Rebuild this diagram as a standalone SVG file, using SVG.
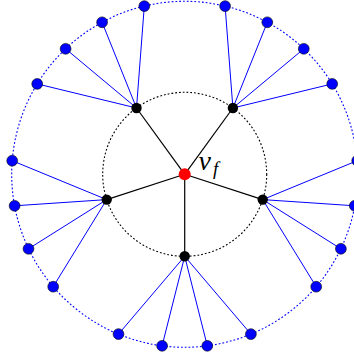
<svg xmlns="http://www.w3.org/2000/svg" width="354" height="360" viewBox="0 0 354 360">
<style>
.ring{fill:none;stroke-width:1.1;stroke-dasharray:1.8 2}
.e1{stroke:#000;stroke-width:1.2}
.e2{stroke:#0000ff;stroke-width:1}
.b{fill:#0000ff;stroke:#000;stroke-width:0.6}
.k{fill:#000}
.r{fill:#ff0000}
.lbl{font-family:"Liberation Serif",serif;font-style:italic;fill:#000}
</style>
<rect width="354" height="360" fill="#fff"/>
<circle class="ring" cx="184.7" cy="174.3" r="82" stroke="#000"/>
<circle class="ring" cx="184.7" cy="174.3" r="173" stroke="#0000ff"/>
<g id="connectors">
<line class="e1" x1="184.7" y1="174.3" x2="184.7" y2="256.3"/>
<line class="e1" x1="184.7" y1="174.3" x2="262.7" y2="199.6"/>
<line class="e1" x1="184.7" y1="174.3" x2="106.7" y2="199.6"/>
<line class="e1" x1="184.7" y1="174.3" x2="136.5" y2="108.0"/>
<line class="e1" x1="184.7" y1="174.3" x2="232.9" y2="108.0"/>
<line class="e2" x1="184.7" y1="256.3" x2="250.9" y2="334.1"/>
<line class="e2" x1="184.7" y1="256.3" x2="207.3" y2="345.8"/>
<line class="e2" x1="184.7" y1="256.3" x2="162.1" y2="345.8"/>
<line class="e2" x1="184.7" y1="256.3" x2="118.5" y2="334.1"/>
<line class="e2" x1="262.7" y1="199.6" x2="357.2" y2="160.7"/>
<line class="e2" x1="262.7" y1="199.6" x2="354.8" y2="205.8"/>
<line class="e2" x1="262.7" y1="199.6" x2="340.9" y2="248.8"/>
<line class="e2" x1="262.7" y1="199.6" x2="316.2" y2="286.7"/>
<line class="e2" x1="106.7" y1="199.6" x2="53.2" y2="286.7"/>
<line class="e2" x1="106.7" y1="199.6" x2="28.5" y2="248.8"/>
<line class="e2" x1="106.7" y1="199.6" x2="14.6" y2="205.8"/>
<line class="e2" x1="106.7" y1="199.6" x2="12.2" y2="160.7"/>
<line class="e2" x1="136.5" y1="108.0" x2="37.2" y2="83.9"/>
<line class="e2" x1="136.5" y1="108.0" x2="65.6" y2="48.8"/>
<line class="e2" x1="136.5" y1="108.0" x2="102.1" y2="22.3"/>
<line class="e2" x1="136.5" y1="108.0" x2="144.3" y2="6.1"/>
<line class="e2" x1="232.9" y1="108.0" x2="225.1" y2="6.1"/>
<line class="e2" x1="232.9" y1="108.0" x2="267.3" y2="22.3"/>
<line class="e2" x1="232.9" y1="108.0" x2="303.8" y2="48.8"/>
<line class="e2" x1="232.9" y1="108.0" x2="332.2" y2="83.9"/>
</g>
<g id="vf"><circle class="r" cx="184.7" cy="174.3" r="6"/>
<text class="lbl" x="198.5" y="169.5" font-size="28">v</text><text class="lbl" x="213" y="175" font-size="19">f</text></g>
<g id="k1"><circle class="k" cx="184.7" cy="256.3" r="5.2"/></g>
<g id="k2"><circle class="k" cx="262.7" cy="199.6" r="5.2"/></g>
<g id="k3"><circle class="k" cx="106.7" cy="199.6" r="5.2"/></g>
<g id="k4"><circle class="k" cx="136.5" cy="108.0" r="5.2"/></g>
<g id="k5"><circle class="k" cx="232.9" cy="108.0" r="5.2"/></g>
<g id="b1"><circle class="b" cx="250.9" cy="334.1" r="5.4"/></g>
<g id="b2"><circle class="b" cx="207.3" cy="345.8" r="5.4"/></g>
<g id="b3"><circle class="b" cx="162.1" cy="345.8" r="5.4"/></g>
<g id="b4"><circle class="b" cx="118.5" cy="334.1" r="5.4"/></g>
<g id="b5"><circle class="b" cx="357.2" cy="160.7" r="5.4"/></g>
<g id="b6"><circle class="b" cx="354.8" cy="205.8" r="5.4"/></g>
<g id="b7"><circle class="b" cx="340.9" cy="248.8" r="5.4"/></g>
<g id="b8"><circle class="b" cx="316.2" cy="286.7" r="5.4"/></g>
<g id="b9"><circle class="b" cx="53.2" cy="286.7" r="5.4"/></g>
<g id="b10"><circle class="b" cx="28.5" cy="248.8" r="5.4"/></g>
<g id="b11"><circle class="b" cx="14.6" cy="205.8" r="5.4"/></g>
<g id="b12"><circle class="b" cx="12.2" cy="160.7" r="5.4"/></g>
<g id="b13"><circle class="b" cx="37.2" cy="83.9" r="5.4"/></g>
<g id="b14"><circle class="b" cx="65.6" cy="48.8" r="5.4"/></g>
<g id="b15"><circle class="b" cx="102.1" cy="22.3" r="5.4"/></g>
<g id="b16"><circle class="b" cx="144.3" cy="6.1" r="5.4"/></g>
<g id="b17"><circle class="b" cx="225.1" cy="6.1" r="5.4"/></g>
<g id="b18"><circle class="b" cx="267.3" cy="22.3" r="5.4"/></g>
<g id="b19"><circle class="b" cx="303.8" cy="48.8" r="5.4"/></g>
<g id="b20"><circle class="b" cx="332.2" cy="83.9" r="5.4"/></g>
</svg>
